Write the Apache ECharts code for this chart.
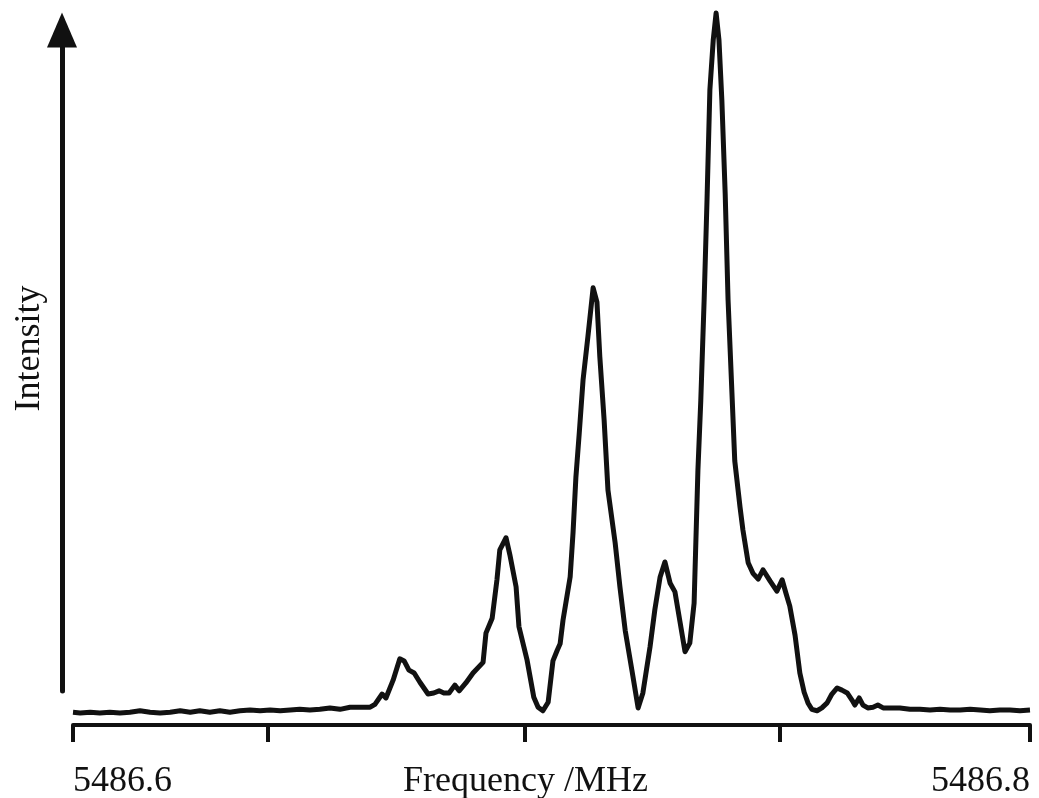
<!DOCTYPE html>
<html>
<head>
<meta charset="utf-8">
<script src="https://cdn.jsdelivr.net/npm/echarts@6/dist/echarts.min.js"></script>
<style>
    html, body { margin: 0; padding: 0; background: #fff; }
    #spectrum { width: 1039px; height: 798px; }
</style>
</head>
<body>
<div id="spectrum"></div>
<script>
// frequency (MHz) and intensity (arb. units, peak = 100)
var freq = [
    5486.6000, 5486.6015, 5486.6036, 5486.6056, 5486.6077, 5486.6098, 5486.6119, 5486.6140,
    5486.6161, 5486.6182, 5486.6203, 5486.6224, 5486.6245, 5486.6265, 5486.6286, 5486.6307,
    5486.6328, 5486.6349, 5486.6370, 5486.6391, 5486.6412, 5486.6433, 5486.6454, 5486.6474,
    5486.6495, 5486.6516, 5486.6537, 5486.6558, 5486.6579, 5486.6600, 5486.6621, 5486.6631,
    5486.6646, 5486.6654, 5486.6669, 5486.6683, 5486.6692, 5486.6702, 5486.6713, 5486.6725,
    5486.6742, 5486.6754, 5486.6765, 5486.6775, 5486.6786, 5486.6798, 5486.6807, 5486.6821,
    5486.6836, 5486.6857, 5486.6863, 5486.6876, 5486.6886, 5486.6892, 5486.6905, 5486.6913,
    5486.6926, 5486.6932, 5486.6949, 5486.6963, 5486.6972, 5486.6982, 5486.6993, 5486.7003,
    5486.7012, 5486.7018, 5486.7024, 5486.7039, 5486.7045, 5486.7051, 5486.7058, 5486.7066,
    5486.7076, 5486.7087, 5486.7095, 5486.7101, 5486.7110, 5486.7118, 5486.7133, 5486.7143,
    5486.7154, 5486.7168, 5486.7181, 5486.7191, 5486.7206, 5486.7216, 5486.7227, 5486.7237,
    5486.7248, 5486.7258, 5486.7269, 5486.7279, 5486.7289, 5486.7298, 5486.7306, 5486.7312,
    5486.7319, 5486.7325, 5486.7331, 5486.7338, 5486.7344, 5486.7350, 5486.7356, 5486.7363,
    5486.7369, 5486.7377, 5486.7383, 5486.7394, 5486.7400, 5486.7411, 5486.7421, 5486.7432,
    5486.7442, 5486.7457, 5486.7471, 5486.7482, 5486.7490, 5486.7498, 5486.7509, 5486.7519,
    5486.7528, 5486.7536, 5486.7544, 5486.7555, 5486.7565, 5486.7576, 5486.7586, 5486.7597,
    5486.7607, 5486.7618, 5486.7628, 5486.7634, 5486.7643, 5486.7651, 5486.7661, 5486.7672,
    5486.7682, 5486.7693, 5486.7707, 5486.7728, 5486.7749, 5486.7770, 5486.7791, 5486.7812,
    5486.7833, 5486.7854, 5486.7875, 5486.7896, 5486.7916, 5486.7937, 5486.7958, 5486.7979,
    5486.8000
];
var intensity = [
    1.8, 1.7, 1.8, 1.7, 1.8, 1.7, 1.8, 2.0,
    1.8, 1.7, 1.8, 2.0, 1.8, 2.0, 1.8, 2.0,
    1.8, 2.0, 2.1, 2.0, 2.1, 2.0, 2.1, 2.2,
    2.1, 2.2, 2.4, 2.2, 2.5, 2.5, 2.5, 2.9,
    4.35, 3.8, 6.3, 9.3, 9.0, 7.7, 7.3, 6.0,
    4.35, 4.5, 4.8, 4.5, 4.5, 5.6, 4.8, 5.9,
    7.3, 8.8, 12.9, 15.0, 20.4, 24.6, 26.3, 23.9,
    19.4, 13.8, 9.1, 3.9, 2.5, 2.0, 3.2, 9.0,
    10.5, 11.4, 14.7, 20.8, 27.0, 34.8, 41.0, 48.5,
    54.5, 61.4, 59.4, 51.7, 42.8, 33.0, 25.6, 19.4,
    13.3, 7.7, 2.4, 4.5, 11.0, 16.2, 20.8, 22.9,
    19.9, 18.7, 14.3, 10.3, 11.5, 17.1, 35.8, 45.6,
    59.7, 73.7, 89.2, 96.2, 100, 96.2, 87.8, 74.6,
    59.7, 46.8, 37.1, 30.6, 27.4, 22.8, 21.3, 20.5,
    21.8, 20.2, 18.8, 20.4, 18.5, 16.7, 12.6, 7.3,
    4.6, 3.1, 2.2, 2.0, 2.4, 3.1, 4.35, 5.2,
    4.9, 4.5, 3.5, 2.8, 3.8, 2.8, 2.4, 2.5,
    2.8, 2.4, 2.4, 2.4, 2.2, 2.2, 2.1, 2.2,
    2.1, 2.1, 2.2, 2.1, 2.0, 2.1, 2.1, 2.0,
    2.1
];
var tickValues = [5486.6, 5486.6408, 5486.6945, 5486.7478, 5486.8];
var labelValues = [5486.6, 5486.8];

var ink = '#111';
var serif = '"Liberation Serif", "Times New Roman", serif';

var points = [];
for (var i = 0; i < freq.length; i++) {
    points.push([freq[i], intensity[i]]);
}

var myChart = echarts.init(document.getElementById('spectrum'));
var option = {
    backgroundColor: '#fff',
    animation: false,
    grid: [
        { left: 73, right: 9, top: 13, bottom: 73, outerBoundsMode: 'none' },
        // narrow grid that only carries the arrow-headed intensity axis
        { left: 62, width: 1, top: 30, bottom: 107, outerBoundsMode: 'none' }
    ],
    xAxis: [
        {
            type: 'value',
            gridIndex: 0,
            min: 5486.6,
            max: 5486.8,
            name: 'Frequency /MHz',
            nameLocation: 'middle',
            nameGap: 39,
            nameMoveOverlap: false,
            nameTextStyle: {
                fontFamily: serif,
                fontSize: 36,
                color: ink,
                padding: [0, 52, 0, 0]
            },
            axisLine: { show: true, lineStyle: { color: ink, width: 4 } },
            axisTick: {
                show: true,
                inside: false,
                length: 17,
                customValues: tickValues,
                lineStyle: { color: ink, width: 4 }
            },
            axisLabel: {
                show: true,
                margin: 39,
                customValues: labelValues,
                alignMinLabel: 'left',
                alignMaxLabel: 'right',
                fontFamily: serif,
                fontSize: 36,
                color: ink,
                formatter: function (v) { return v.toFixed(1); }
            },
            splitLine: { show: false }
        },
        { type: 'value', gridIndex: 1, show: false }
    ],
    yAxis: [
        {
            type: 'value',
            gridIndex: 0,
            min: 0,
            max: 100,
            show: false
        },
        {
            type: 'value',
            gridIndex: 1,
            min: 0,
            max: 1,
            name: 'Intensity',
            nameLocation: 'middle',
            nameGap: 14,
            nameMoveOverlap: false,
            nameTextStyle: {
                fontFamily: serif,
                fontSize: 36,
                color: ink,
                padding: [0, 0, 0, 24]
            },
            axisLine: {
                show: true,
                symbol: ['none', 'triangle'],
                symbolSize: [30, 35],
                lineStyle: { color: ink, width: 5 }
            },
            axisTick: { show: false },
            axisLabel: { show: false },
            splitLine: { show: false }
        }
    ],
    series: [
        {
            name: 'Intensity',
            type: 'line',
            xAxisIndex: 0,
            yAxisIndex: 0,
            showSymbol: false,
            clip: false,
            lineStyle: { color: ink, width: 5, join: 'round' },
            data: points
        }
    ]
};
myChart.setOption(option);
window.onresize = myChart.resize;
</script>
</body>
</html>
